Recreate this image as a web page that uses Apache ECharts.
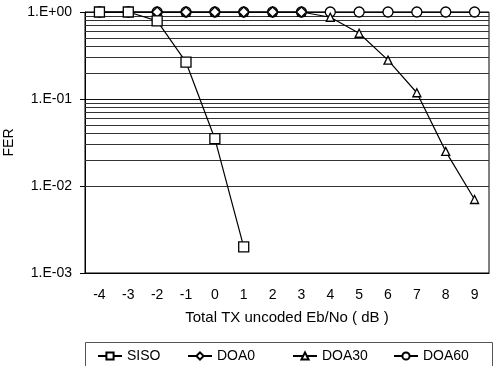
<!DOCTYPE html>
<html>
<head>
<meta charset="utf-8">
<script src="https://cdn.jsdelivr.net/npm/echarts@6/dist/echarts.min.js"></script>
<style>
  html, body { margin: 0; padding: 0; background: #fff; }
  #chart { width: 495px; height: 366px; }
</style>
</head>
<body>
<div id="chart"></div>
<script>
const categories = ["-4", "-3", "-2", "-1", "0", "1", "2", "3", "4", "5", "6", "7", "8", "9"];

const siso = [1, 1, 0.79, 0.265, 0.035, 0.002, null, null, null, null, null, null, null, null];
const doa0 = [1, 1, 1, 1, 1, 1, 1, 1, null, null, null, null, null, null];
const doa30 = [1, 1, 1, 1, 1, 1, 1, 1, 0.87, 0.57, 0.28, 0.118, 0.025, 0.007];
const doa60 = [1, 1, 1, 1, 1, 1, 1, 1, 1, 1, 1, 1, 1, 1];

const legendNames = ["SISO", "DOA0", "DOA30", "DOA60"];
const legendLefts = [92, 182, 287, 388];

// Excel-style minor gridlines at 2..9 of each decade
const decades = [0.001, 0.01, 0.1];
const minorSteps = [2, 3, 4, 5, 6, 7, 8, 9];
const minorLines = [];
for (const d of decades) for (const m of minorSteps) minorLines.push(+(d * m).toPrecision(3));

const FONT = "Liberation Sans";

const chart = echarts.init(document.getElementById("chart"), null, { renderer: "canvas" });

const baseSeries = (name, data, symbol, size) => ({
  name,
  type: "line",
  data,
  symbol,
  symbolSize: size,
  showAllSymbol: true,
  connectNulls: false,
  lineStyle: { color: "#000", width: 1.2 },
  itemStyle: { color: "#fff", borderColor: "#000", borderWidth: 1.3 },
  emphasis: { disabled: true },
  animation: false,
});

chart.setOption({
  animation: false,
  backgroundColor: "#fff",
  textStyle: { fontFamily: FONT, color: "#000" },
  grid: {
    left: 85, right: 6, top: 12, bottom: 93,
    outerBoundsMode: "none",
    containLabel: false,
    show: true, borderColor: "#000", borderWidth: 1, backgroundColor: "transparent",
  },
  legend: legendNames.map((n, i) => ({
    left: legendLefts[i],
    top: 344,
    itemWidth: 24,
    itemHeight: 9,
    itemGap: 0,
    textStyle: { fontFamily: FONT, fontSize: 14, color: "#000" },
    data: [n],
  })),
  graphic: [{
    type: "rect",
    shape: { x: 85.5, y: 342.5, width: 407, height: 60 },
    style: { fill: null, stroke: "#555", lineWidth: 1 },
    silent: true,
  }],
  xAxis: {
    type: "category",
    data: categories,
    boundaryGap: true,
    name: "Total TX uncoded Eb/No ( dB )",
    nameLocation: "middle",
    nameGap: 37,
    nameTextStyle: { fontFamily: FONT, fontSize: 15, color: "#000" },
    axisLine: { lineStyle: { color: "#000", width: 1 } },
    axisTick: { inside: true, length: 4, lineStyle: { color: "#000" } },
    axisLabel: { fontFamily: FONT, fontSize: 14, color: "#000", margin: 15 },
    splitLine: { show: false },
  },
  yAxis: {
    type: "log",
    logBase: 10,
    min: 0.001,
    max: 1,
    name: "FER",
    nameLocation: "middle",
    nameGap: 68,
    nameTextStyle: { fontFamily: FONT, fontSize: 14, color: "#000" },
    axisLine: { show: true, lineStyle: { color: "#000", width: 1 } },
    axisTick: { show: true, inside: false, length: 5, lineStyle: { color: "#000" } },
    axisLabel: {
      fontFamily: FONT, fontSize: 14, color: "#000", margin: 13,
      formatter: (v) => {
        const e = Math.round(Math.log10(v));
        return "1.E" + (e >= 0 ? "+" : "-") + String(Math.abs(e)).padStart(2, "0");
      },
    },
    splitLine: { show: true, lineStyle: { color: "#111", width: 1 } },
  },
  series: [
    {
      ...baseSeries("DOA60", doa60, "circle", 10),
      markLine: {
        silent: true,
        symbol: "none",
        label: { show: false },
        lineStyle: { color: "#333", width: 1, type: "solid" },
        data: minorLines.map((v) => ({ yAxis: v })),
        animation: false,
        z: 1,
      },
    },
    baseSeries("DOA30", doa30, "triangle", 8),
    baseSeries("DOA0", doa0, "diamond", 10),
    baseSeries("SISO", siso, "rect", 10),
  ],
});
</script>
</body>
</html>
